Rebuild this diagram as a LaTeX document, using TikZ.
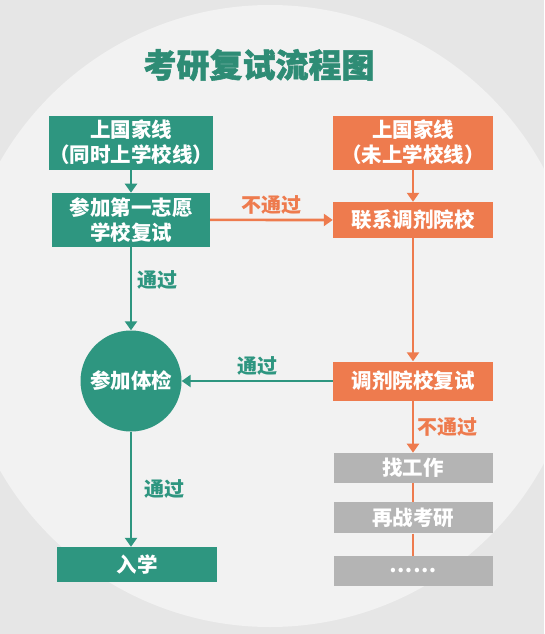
\documentclass[tikz,border=0pt]{standalone}
\usepackage{fontspec}
\setmainfont{Noto Sans CJK SC}
\newfontfamily\titlefont{Noto Sans CJK SC}[BoldFeatures={FakeBold=1.6}]
\usetikzlibrary{positioning, arrows.meta}

\definecolor{flowgreen}{HTML}{2E9680}
\definecolor{titlegreen}{HTML}{2E8C75}
\definecolor{floworange}{HTML}{EE7B4E}
\definecolor{flowgrey}{HTML}{B4B4B4}
\definecolor{bgouter}{HTML}{E6E6E6}
\definecolor{bginner}{HTML}{F2F2F2}

\begin{document}
\begin{tikzpicture}[x=1pt, y=-1pt,
                node distance=23pt,
                gbox/.style={rectangle, fill=flowgreen, text=white, inner sep=0pt,
                             minimum width=158pt, minimum height=54pt, align=center,
                             font=\fontsize{20.5}{25}\selectfont\bfseries},
                obox/.style={gbox, fill=floworange, minimum width=160pt},
                kbox/.style={gbox, fill=flowgrey, minimum width=159pt, minimum height=30pt},
                exam/.style={circle, fill=flowgreen, text=white, inner sep=0pt, minimum size=101pt,
                             font=\fontsize{20.5}{25}\selectfont\bfseries},
                glabel/.style={text=flowgreen, inner sep=0pt, font=\fontsize{20}{25}\selectfont\bfseries},
                olabel/.style={glabel, text=floworange},
                garrow/.style={-{Triangle[width=12pt, length=9pt]}, line width=2.6pt, draw=flowgreen},
                oarrow/.style={garrow, draw=floworange},
                oline/.style={line width=2.6pt, draw=floworange}
            ]
                \useasboundingbox (0,0) rectangle (544,634);
                \begin{scope}
                    \clip (0,0) rectangle (544,634);
                    \fill[bgouter] (0,0) rectangle (544,634);
                    \fill[bginner] (270,316) circle[radius=311pt];
                \end{scope}

                \node[text=titlegreen, font=\fontsize{33}{36}\titlefont\bfseries] (ttl) at (259,65) {考研复试流程图};

                \node[gbox] (g1) at (131,142.5) {上国家线\\（同时上学校线）};
                \node[gbox, below=of g1] (g2) {参加第一志愿\\学校复试};
                \node[exam] (chk) at (131,381) {参加体检};
                \node[gbox, minimum width=160pt, minimum height=35pt] (ent) at (137,564.5) {入学};

                \node[obox] (o1) at (413,142.5) {上国家线\\（未上学校线）};
                \node[obox, minimum height=36pt] (o2) at (413,220) {联系调剂院校};
                \node[obox, minimum height=39pt] (o3) at (413,381) {调剂院校复试};
                \node[kbox, below=52pt of o3] (k1) {找工作};
                \node[kbox, minimum height=31pt, below=19pt of k1] (k2) {再战考研};
                \node[kbox, below=22pt of k2] (k3) {……};

                \draw[garrow] (g1) -- (g2);
                \draw[oarrow] (g2) -- node[olabel, above=4pt] {不通过} (o2);
                \draw[garrow] (g2) -- node[glabel, right=5pt, pos=0.4] {通过} (chk);
                \draw[garrow] (chk) -- node[glabel, right=12pt] {通过} (chk |- ent.north);
                \draw[oarrow] (o1) -- (o2);
                \draw[oarrow] (o2) -- (o3);
                \draw[garrow] (o3) -- node[glabel, above=4pt] {通过} (chk);
                \draw[oarrow] (o3) -- node[olabel, right=3pt] {不通过} (k1);
                \draw[oline] (k1) -- (k2);
                \draw[oline] (k2) -- (k3);
            \end{tikzpicture}
\end{document}
